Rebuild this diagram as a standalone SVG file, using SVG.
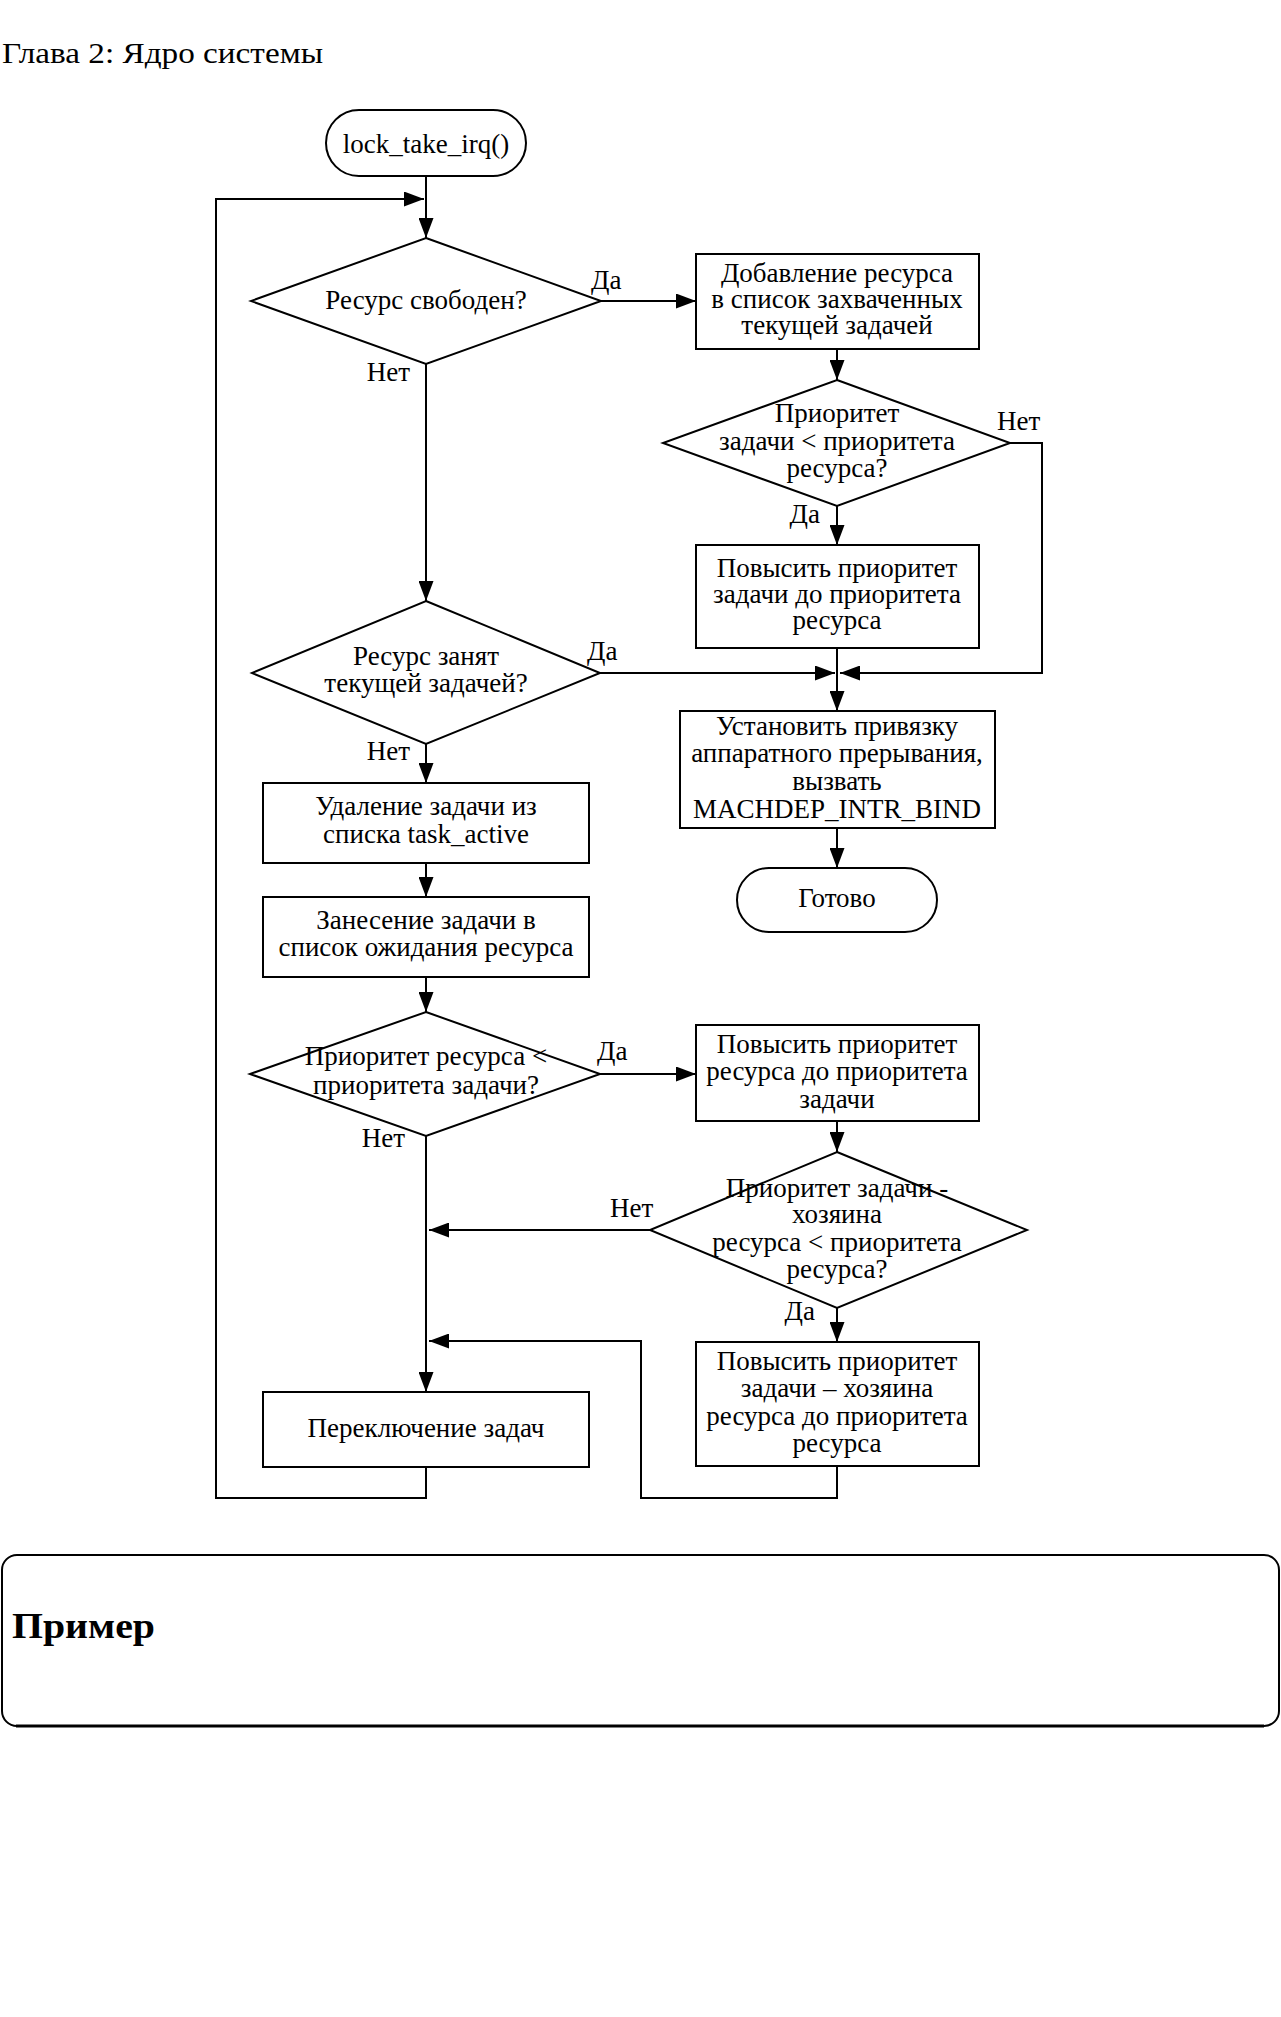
<svg xmlns="http://www.w3.org/2000/svg" width="1281" height="2017" viewBox="0 0 1281 2017">
<defs>
<style>
.n{fill:#fff;stroke:#000;stroke-width:2}
.c{fill:none;stroke:#000;stroke-width:2}
text{font-family:"Liberation Serif","Times New Roman",serif;font-size:27px;fill:#000}
.m{text-anchor:middle}
.e{text-anchor:end}
</style>
<marker id="a" viewBox="0 0 20 15" markerWidth="20" markerHeight="15" refX="20" refY="7.5" orient="auto" markerUnits="userSpaceOnUse">
<path d="M0,0 L20,7.5 L0,15 z" fill="#000"/>
</marker>
</defs>
<rect width="1281" height="2017" fill="#fff"/>
<text id="title" x="2" y="63" style="font-size:29px" textLength="321" lengthAdjust="spacingAndGlyphs">Глава 2: Ядро системы</text>

<g id="connectors">
<path class="c" d="M426,176 V238" marker-end="url(#a)"/>
<path class="c" d="M426,1467 V1498 H216 V199 H424" marker-end="url(#a)"/>
<path class="c" d="M601,301 H696" marker-end="url(#a)"/>
<path class="c" d="M426,364 V601" marker-end="url(#a)"/>
<path class="c" d="M837,349 V380" marker-end="url(#a)"/>
<path class="c" d="M837,506 V545" marker-end="url(#a)"/>
<path class="c" d="M1010,443 H1042 V673 H840" marker-end="url(#a)"/>
<path class="c" d="M600,673 H835" marker-end="url(#a)"/>
<path class="c" d="M837,648 V711" marker-end="url(#a)"/>
<path class="c" d="M837,828 V868" marker-end="url(#a)"/>
<path class="c" d="M426,744 V783" marker-end="url(#a)"/>
<path class="c" d="M426,863 V897" marker-end="url(#a)"/>
<path class="c" d="M426,977 V1012" marker-end="url(#a)"/>
<path class="c" d="M600,1074 H696" marker-end="url(#a)"/>
<path class="c" d="M426,1136 V1392" marker-end="url(#a)"/>
<path class="c" d="M837,1121 V1152" marker-end="url(#a)"/>
<path class="c" d="M650,1230 H429" marker-end="url(#a)"/>
<path class="c" d="M837,1308 V1342" marker-end="url(#a)"/>
<path class="c" d="M837,1466 V1498 H641 V1341 H429" marker-end="url(#a)"/>
<text x="591" y="289">Да</text>
<text class="e" x="410" y="381">Нет</text>
<text x="997" y="430">Нет</text>
<text class="e" x="820" y="523">Да</text>
<text x="587" y="660">Да</text>
<text class="e" x="410" y="760">Нет</text>
<text x="597" y="1060">Да</text>
<text class="e" x="405" y="1147">Нет</text>
<text x="610" y="1217">Нет</text>
<text class="e" x="815" y="1320">Да</text>
</g>

<g id="start">
<rect class="n" x="326" y="110" width="200" height="66" rx="33"/>
<text class="m" x="426" y="153">lock_take_irq()</text>
</g>

<g id="d_free">
<polygon class="n" points="426,238 601,301 426,364 251,301"/>
<text class="m" x="426" y="309">Ресурс свободен?</text>
</g>

<g id="add_res">
<rect class="n" x="696" y="254" width="283" height="95"/>
<text class="m" x="837" y="282">Добавление ресурса</text>
<text class="m" x="837" y="308">в список захваченных</text>
<text class="m" x="837" y="334">текущей задачей</text>
</g>

<g id="d_prio1">
<polygon class="n" points="837,380 1010,443 837,506 663,443"/>
<text class="m" x="837" y="422">Приоритет</text>
<text class="m" x="837" y="450">задачи &lt; приоритета</text>
<text class="m" x="837" y="477">ресурса?</text>
</g>

<g id="raise_task">
<rect class="n" x="696" y="545" width="283" height="103"/>
<text class="m" x="837" y="577">Повысить приоритет</text>
<text class="m" x="837" y="603">задачи до приоритета</text>
<text class="m" x="837" y="629">ресурса</text>
</g>

<g id="d_busy">
<polygon class="n" points="426,601 600,673 426,744 252,673"/>
<text class="m" x="426" y="665">Ресурс занят</text>
<text class="m" x="426" y="692">текущей задачей?</text>
</g>

<g id="bind">
<rect class="n" x="680" y="711" width="315" height="117"/>
<text class="m" x="837" y="735">Установить привязку</text>
<text class="m" x="837" y="762">аппаратного прерывания,</text>
<text class="m" x="837" y="790">вызвать</text>
<text class="m" x="837" y="818">MACHDEP_INTR_BIND</text>
</g>

<g id="done">
<rect class="n" x="737" y="868" width="200" height="64" rx="32"/>
<text class="m" x="837" y="907">Готово</text>
</g>

<g id="remove">
<rect class="n" x="263" y="783" width="326" height="80"/>
<text class="m" x="426" y="815">Удаление задачи из</text>
<text class="m" x="426" y="843">списка task_active</text>
</g>

<g id="enqueue">
<rect class="n" x="263" y="897" width="326" height="80"/>
<text class="m" x="426" y="929">Занесение задачи в</text>
<text class="m" x="426" y="956">список ожидания ресурса</text>
</g>

<g id="d_prio2">
<polygon class="n" points="426,1012 600,1074 426,1136 250,1074"/>
<text class="m" x="426" y="1065">Приоритет ресурса &lt;</text>
<text class="m" x="426" y="1094">приоритета задачи?</text>
</g>

<g id="raise_res">
<rect class="n" x="696" y="1025" width="283" height="96"/>
<text class="m" x="837" y="1053">Повысить приоритет</text>
<text class="m" x="837" y="1080">ресурса до приоритета</text>
<text class="m" x="837" y="1108">задачи</text>
</g>

<g id="d_owner">
<polygon class="n" points="837,1152 1027,1230 837,1308 650,1230"/>
<text class="m" x="837" y="1197">Приоритет задачи -</text>
<text class="m" x="837" y="1223">хозяина</text>
<text class="m" x="837" y="1251">ресурса &lt; приоритета</text>
<text class="m" x="837" y="1278">ресурса?</text>
</g>

<g id="raise_owner">
<rect class="n" x="696" y="1342" width="283" height="124"/>
<text class="m" x="837" y="1370">Повысить приоритет</text>
<text class="m" x="837" y="1397">задачи – хозяина</text>
<text class="m" x="837" y="1425">ресурса до приоритета</text>
<text class="m" x="837" y="1452">ресурса</text>
</g>

<g id="switch">
<rect class="n" x="263" y="1392" width="326" height="75"/>
<text class="m" x="426" y="1437">Переключение задач</text>
</g>

<g id="example">
<rect class="n" x="2" y="1555" width="1277" height="171" rx="15"/>
<path class="c" d="M16,1726 H1264" style="stroke-width:3"/>
<text x="12" y="1638" style="font-size:35px;font-weight:bold" textLength="143" lengthAdjust="spacingAndGlyphs">Пример</text>
</g>
</svg>
